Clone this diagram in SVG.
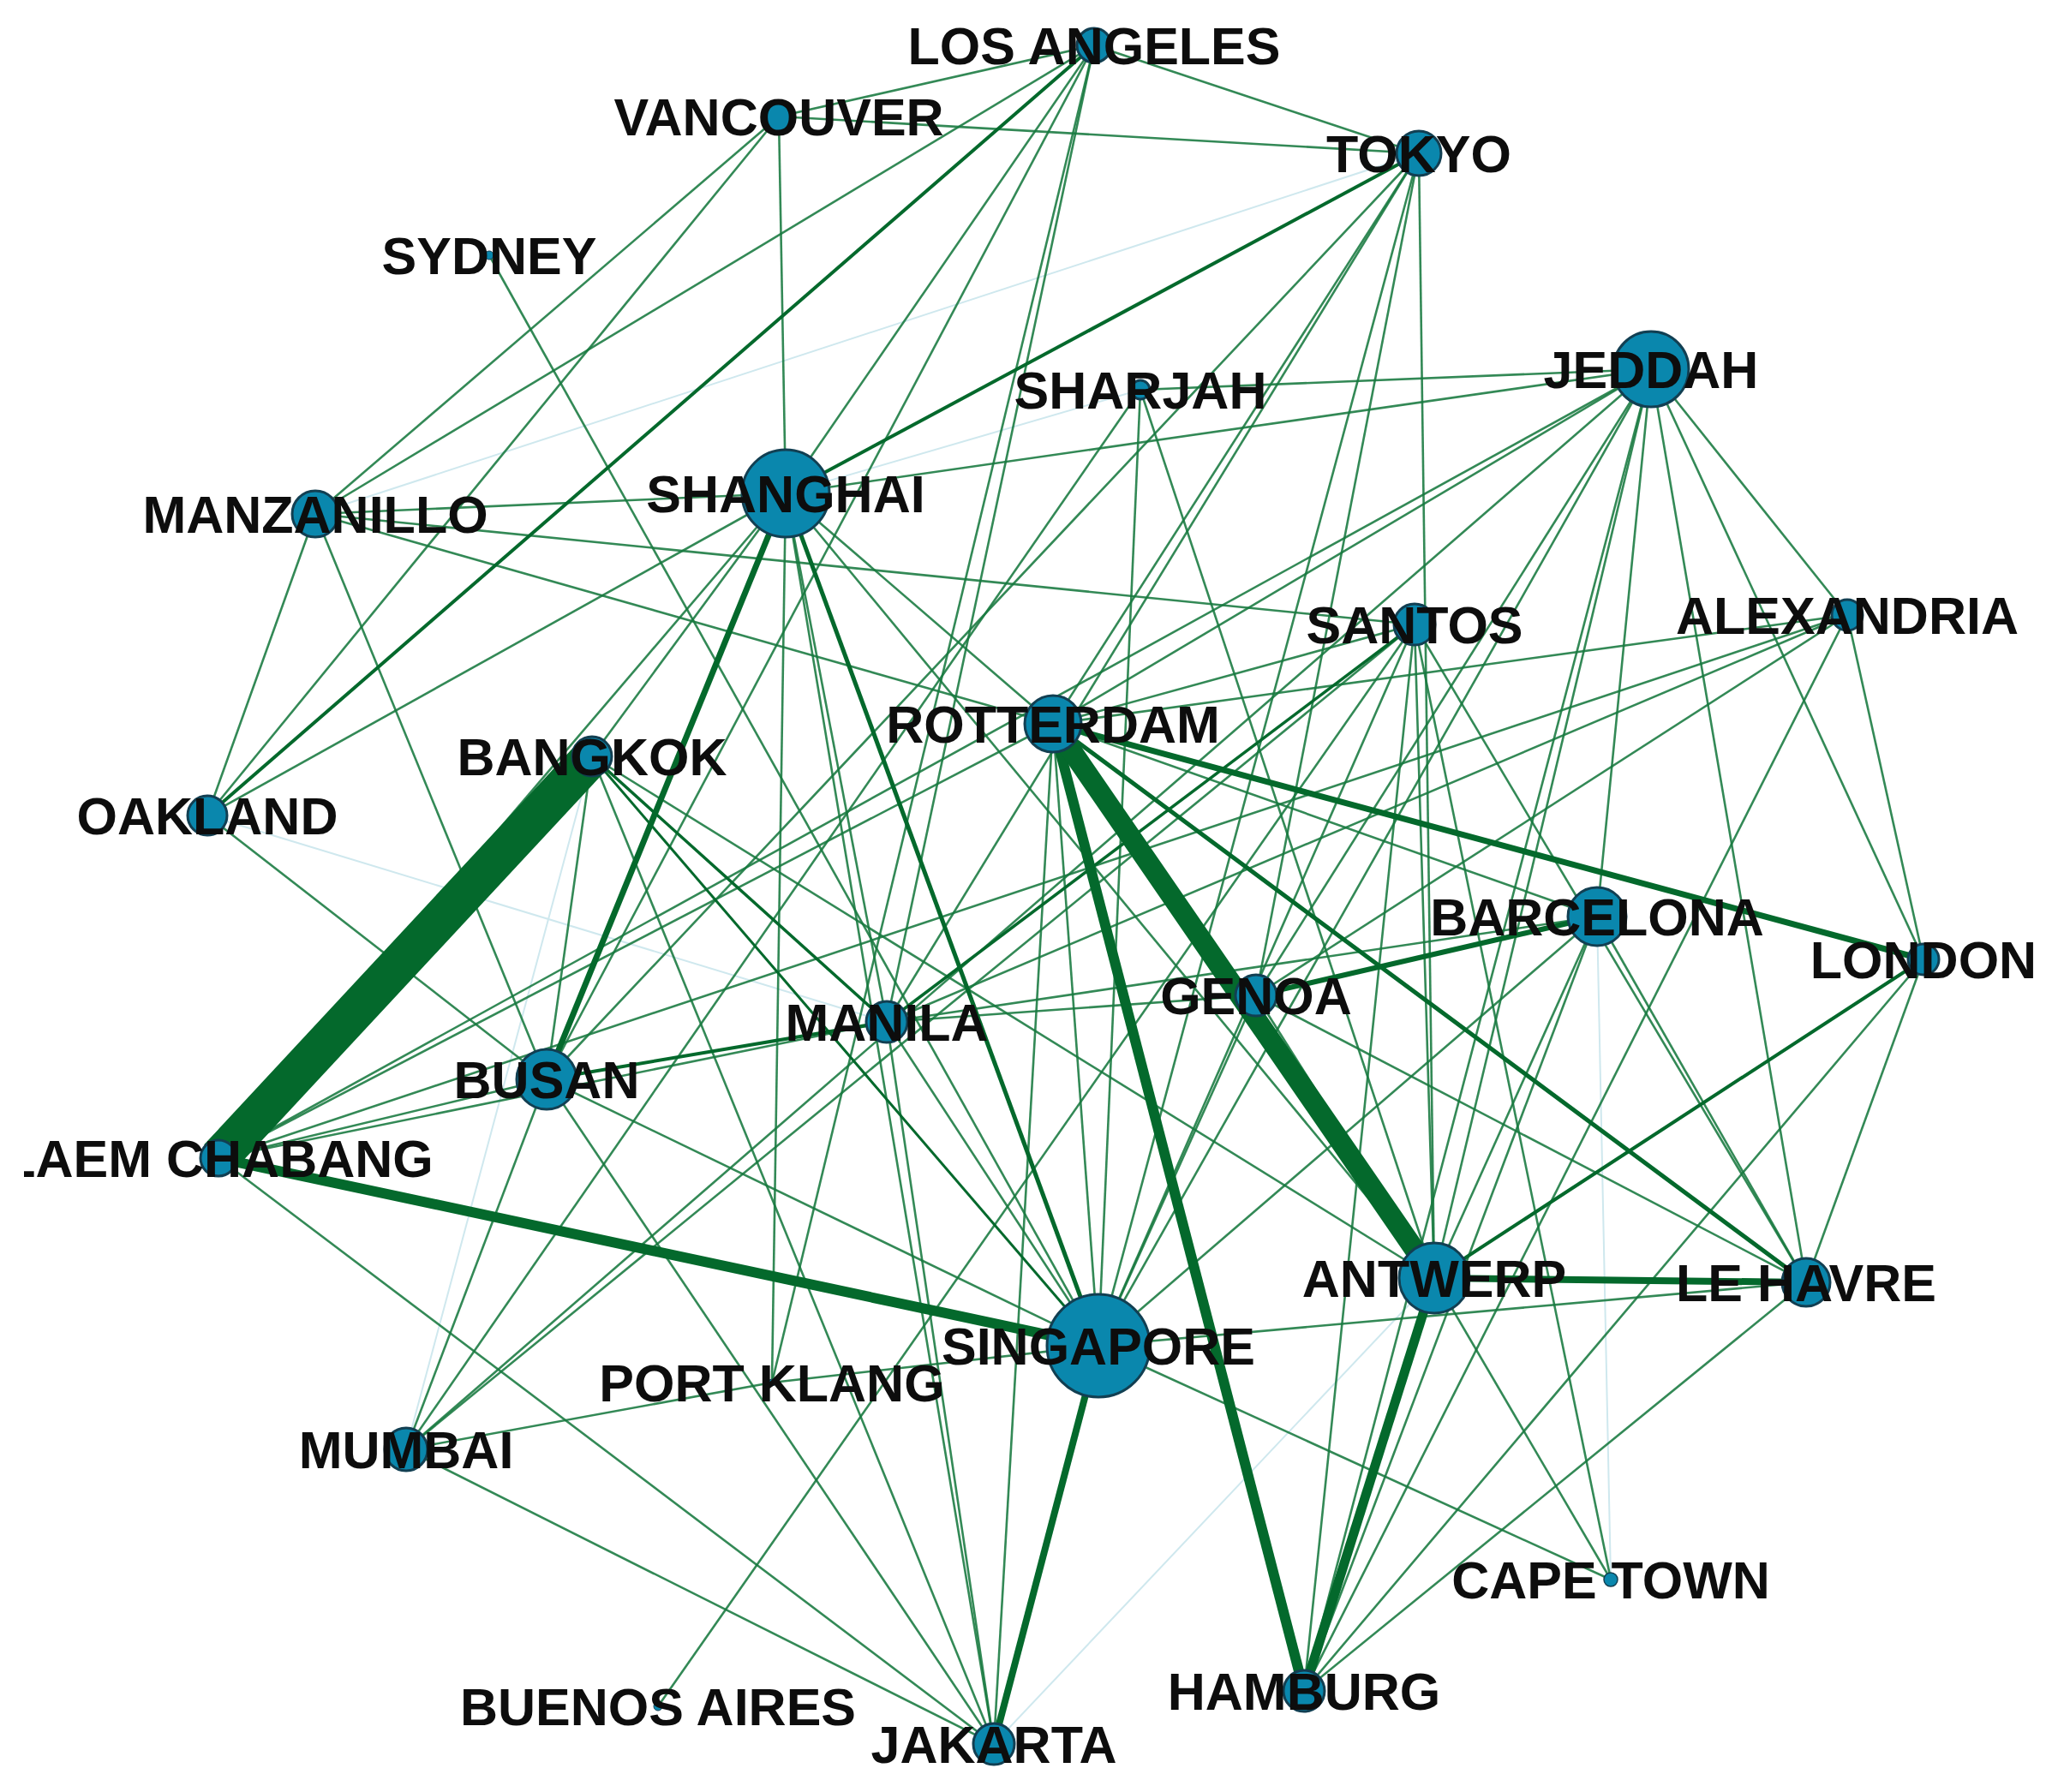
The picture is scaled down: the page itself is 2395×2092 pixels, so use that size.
<svg xmlns="http://www.w3.org/2000/svg" width="2395" height="2092" viewBox="0 0 2395 2092">
<defs>
<style>
.e{stroke:#17793f;stroke-width:2.6;stroke-opacity:0.88;fill:none}
.f{stroke:#cfe8ee;stroke-width:2;fill:none}
.t{stroke:#04692c;fill:none}
.n circle{fill:#0a87ad;stroke:#123f52;stroke-width:3}
.n text{font-family:"Liberation Sans",Arial,sans-serif;font-weight:bold;font-size:61px;fill:#0d0d0d;text-anchor:middle}
</style>
<clipPath id="cut"><rect x="28" y="0" width="2367" height="2092"/></clipPath>
</defs>
<rect width="2395" height="2092" fill="#fff"/>
<g id="edges">
<line class="f" x1="368" y1="600" x2="1656" y2="179"/>
<line class="f" x1="242" y1="952" x2="1035" y2="1193"/>
<line class="f" x1="691" y1="883" x2="474" y2="1692"/>
<line class="f" x1="917" y1="576" x2="1331" y2="455"/>
<line class="f" x1="1674" y1="1492" x2="1160" y2="2036"/>
<line class="f" x1="1864" y1="1070" x2="1880" y2="1844"/>
<line class="e" x1="1277" y1="53" x2="909" y2="136"/>
<line class="e" x1="1277" y1="53" x2="1656" y2="179"/>
<line class="e" x1="1277" y1="53" x2="368" y2="600"/>
<line class="e" x1="1277" y1="53" x2="917" y2="576"/>
<line class="e" x1="1277" y1="53" x2="638" y2="1260"/>
<line class="e" x1="1277" y1="53" x2="1035" y2="1193"/>
<line class="e" x1="1277" y1="53" x2="901" y2="1614"/>
<line class="e" x1="909" y1="136" x2="1656" y2="179"/>
<line class="e" x1="909" y1="136" x2="917" y2="576"/>
<line class="e" x1="909" y1="136" x2="368" y2="600"/>
<line class="e" x1="909" y1="136" x2="242" y2="952"/>
<line class="e" x1="571" y1="298" x2="1282" y2="1571"/>
<line class="e" x1="368" y1="600" x2="917" y2="576"/>
<line class="e" x1="368" y1="600" x2="242" y2="952"/>
<line class="e" x1="368" y1="600" x2="638" y2="1260"/>
<line class="e" x1="368" y1="600" x2="1229" y2="845"/>
<line class="e" x1="368" y1="600" x2="1651" y2="729"/>
<line class="e" x1="242" y1="952" x2="917" y2="576"/>
<line class="e" x1="242" y1="952" x2="638" y2="1260"/>
<line class="e" x1="917" y1="576" x2="1927" y2="431"/>
<line class="e" x1="917" y1="576" x2="255" y2="1352"/>
<line class="e" x1="917" y1="576" x2="691" y2="883"/>
<line class="e" x1="917" y1="576" x2="901" y2="1614"/>
<line class="e" x1="917" y1="576" x2="1160" y2="2036"/>
<line class="e" x1="917" y1="576" x2="1035" y2="1193"/>
<line class="e" x1="917" y1="576" x2="1674" y2="1492"/>
<line class="e" x1="917" y1="576" x2="1229" y2="845"/>
<line class="e" x1="1331" y1="455" x2="1927" y2="431"/>
<line class="e" x1="1331" y1="455" x2="1282" y2="1571"/>
<line class="e" x1="1331" y1="455" x2="474" y2="1692"/>
<line class="e" x1="1331" y1="455" x2="1674" y2="1492"/>
<line class="e" x1="1927" y1="431" x2="2156" y2="718"/>
<line class="e" x1="1927" y1="431" x2="2245" y2="1120"/>
<line class="e" x1="1927" y1="431" x2="2108" y2="1497"/>
<line class="e" x1="1927" y1="431" x2="1674" y2="1492"/>
<line class="e" x1="1927" y1="431" x2="1466" y2="1162"/>
<line class="e" x1="1927" y1="431" x2="1282" y2="1571"/>
<line class="e" x1="1927" y1="431" x2="474" y2="1692"/>
<line class="e" x1="1927" y1="431" x2="1229" y2="845"/>
<line class="e" x1="1927" y1="431" x2="255" y2="1352"/>
<line class="e" x1="1927" y1="431" x2="1522" y2="1974"/>
<line class="e" x1="1927" y1="431" x2="1864" y2="1070"/>
<line class="e" x1="1656" y1="179" x2="1229" y2="845"/>
<line class="e" x1="1656" y1="179" x2="1035" y2="1193"/>
<line class="e" x1="1656" y1="179" x2="1282" y2="1571"/>
<line class="e" x1="1656" y1="179" x2="1466" y2="1162"/>
<line class="e" x1="1656" y1="179" x2="638" y2="1260"/>
<line class="e" x1="1656" y1="179" x2="1674" y2="1492"/>
<line class="e" x1="2156" y1="718" x2="2245" y2="1120"/>
<line class="e" x1="2156" y1="718" x2="1466" y2="1162"/>
<line class="e" x1="2156" y1="718" x2="1229" y2="845"/>
<line class="e" x1="2156" y1="718" x2="1522" y2="1974"/>
<line class="e" x1="2156" y1="718" x2="1035" y2="1193"/>
<line class="e" x1="2156" y1="718" x2="255" y2="1352"/>
<line class="e" x1="1651" y1="729" x2="1880" y2="1844"/>
<line class="e" x1="1651" y1="729" x2="1674" y2="1492"/>
<line class="e" x1="1651" y1="729" x2="1229" y2="845"/>
<line class="e" x1="1651" y1="729" x2="768" y2="1992"/>
<line class="e" x1="1651" y1="729" x2="474" y2="1692"/>
<line class="e" x1="1651" y1="729" x2="1282" y2="1571"/>
<line class="e" x1="1651" y1="729" x2="2108" y2="1497"/>
<line class="e" x1="1651" y1="729" x2="1522" y2="1974"/>
<line class="e" x1="1229" y1="845" x2="255" y2="1352"/>
<line class="e" x1="1229" y1="845" x2="1864" y2="1070"/>
<line class="e" x1="1229" y1="845" x2="1160" y2="2036"/>
<line class="e" x1="1229" y1="845" x2="1282" y2="1571"/>
<line class="e" x1="1864" y1="1070" x2="2108" y2="1497"/>
<line class="e" x1="1864" y1="1070" x2="1282" y2="1571"/>
<line class="e" x1="1864" y1="1070" x2="1674" y2="1492"/>
<line class="e" x1="1864" y1="1070" x2="1522" y2="1974"/>
<line class="e" x1="1864" y1="1070" x2="1035" y2="1193"/>
<line class="e" x1="2245" y1="1120" x2="2108" y2="1497"/>
<line class="e" x1="2245" y1="1120" x2="1522" y2="1974"/>
<line class="e" x1="1466" y1="1162" x2="1282" y2="1571"/>
<line class="e" x1="1466" y1="1162" x2="2108" y2="1497"/>
<line class="e" x1="1466" y1="1162" x2="1674" y2="1492"/>
<line class="e" x1="1466" y1="1162" x2="1035" y2="1193"/>
<line class="e" x1="1035" y1="1193" x2="255" y2="1352"/>
<line class="e" x1="1035" y1="1193" x2="1160" y2="2036"/>
<line class="e" x1="1035" y1="1193" x2="1282" y2="1571"/>
<line class="e" x1="638" y1="1260" x2="255" y2="1352"/>
<line class="e" x1="638" y1="1260" x2="474" y2="1692"/>
<line class="e" x1="638" y1="1260" x2="1282" y2="1571"/>
<line class="e" x1="638" y1="1260" x2="1160" y2="2036"/>
<line class="e" x1="691" y1="883" x2="638" y2="1260"/>
<line class="e" x1="691" y1="883" x2="1160" y2="2036"/>
<line class="e" x1="691" y1="883" x2="1674" y2="1492"/>
<line class="e" x1="255" y1="1352" x2="1160" y2="2036"/>
<line class="e" x1="474" y1="1692" x2="901" y2="1614"/>
<line class="e" x1="474" y1="1692" x2="1160" y2="2036"/>
<line class="e" x1="901" y1="1614" x2="1282" y2="1571"/>
<line class="e" x1="1282" y1="1571" x2="2108" y2="1497"/>
<line class="e" x1="1282" y1="1571" x2="1880" y2="1844"/>
<line class="e" x1="1674" y1="1492" x2="1880" y2="1844"/>
<line class="e" x1="2108" y1="1497" x2="1522" y2="1974"/>
<line class="t" x1="691" y1="883" x2="1282" y2="1571" stroke-width="3"/>
<line class="t" x1="691" y1="883" x2="1035" y2="1193" stroke-width="3.5"/>
<line class="t" x1="1035" y1="1193" x2="1651" y2="729" stroke-width="3.5"/>
<line class="t" x1="1674" y1="1492" x2="2245" y2="1120" stroke-width="4"/>
<line class="t" x1="1035" y1="1193" x2="638" y2="1260" stroke-width="4"/>
<line class="t" x1="1656" y1="179" x2="917" y2="576" stroke-width="4"/>
<line class="t" x1="1277" y1="53" x2="242" y2="952" stroke-width="4"/>
<line class="t" x1="917" y1="576" x2="1282" y2="1571" stroke-width="5"/>
<line class="t" x1="1466" y1="1162" x2="1864" y2="1070" stroke-width="6"/>
<line class="t" x1="1229" y1="845" x2="2108" y2="1497" stroke-width="5"/>
<line class="t" x1="1229" y1="845" x2="2245" y2="1120" stroke-width="7"/>
<line class="t" x1="917" y1="576" x2="638" y2="1260" stroke-width="7"/>
<line class="t" x1="1282" y1="1571" x2="1160" y2="2036" stroke-width="8"/>
<line class="t" x1="1674" y1="1492" x2="2108" y2="1497" stroke-width="8"/>
<line class="t" x1="1674" y1="1492" x2="1522" y2="1974" stroke-width="11"/>
<line class="t" x1="255" y1="1352" x2="1282" y2="1571" stroke-width="12"/>
<line class="t" x1="1229" y1="845" x2="1522" y2="1974" stroke-width="12"/>
<line class="t" x1="1229" y1="845" x2="1674" y2="1492" stroke-width="24"/>
<line class="t" x1="691" y1="883" x2="255" y2="1352" stroke-width="46"/>
</g>
<g id="n-losangeles" class="n"><circle cx="1277" cy="53" r="20"/><text x="1277" y="75">LOS ANGELES</text></g>
<g id="n-vancouver" class="n"><circle cx="909" cy="136" r="18"/><text x="909" y="158">VANCOUVER</text></g>
<g id="n-tokyo" class="n"><circle cx="1656" cy="179" r="26"/><text x="1656" y="201">TOKYO</text></g>
<g id="n-sydney" class="n"><circle cx="571" cy="298" r="5" style="stroke-width:1"/><text x="571" y="320">SYDNEY</text></g>
<g id="n-sharjah" class="n"><circle cx="1331" cy="455" r="11"/><text x="1331" y="477">SHARJAH</text></g>
<g id="n-jeddah" class="n"><circle cx="1927" cy="431" r="44"/><text x="1927" y="453">JEDDAH</text></g>
<g id="n-shanghai" class="n"><circle cx="917" cy="576" r="51"/><text x="917" y="598">SHANGHAI</text></g>
<g id="n-manzanillo" class="n"><circle cx="368" cy="600" r="27"/><text x="368" y="622">MANZANILLO</text></g>
<g id="n-santos" class="n"><circle cx="1651" cy="729" r="24"/><text x="1651" y="751">SANTOS</text></g>
<g id="n-alexandria" class="n"><circle cx="2156" cy="718" r="18"/><text x="2156" y="740">ALEXANDRIA</text></g>
<g id="n-rotterdam" class="n"><circle cx="1229" cy="845" r="33"/><text x="1229" y="867">ROTTERDAM</text></g>
<g id="n-bangkok" class="n"><circle cx="691" cy="883" r="23"/><text x="691" y="905">BANGKOK</text></g>
<g id="n-oakland" class="n"><circle cx="242" cy="952" r="23"/><text x="242" y="974">OAKLAND</text></g>
<g id="n-barcelona" class="n"><circle cx="1864" cy="1070" r="34"/><text x="1864" y="1092">BARCELONA</text></g>
<g id="n-london" class="n"><circle cx="2245" cy="1120" r="18"/><text x="2245" y="1142">LONDON</text></g>
<g id="n-genoa" class="n"><circle cx="1466" cy="1162" r="24"/><text x="1466" y="1184">GENOA</text></g>
<g id="n-manila" class="n"><circle cx="1035" cy="1193" r="24"/><text x="1035" y="1215">MANILA</text></g>
<g id="n-busan" class="n"><circle cx="638" cy="1260" r="35"/><text x="638" y="1282">BUSAN</text></g>
<g id="n-laemchabang" class="n"><circle cx="255" cy="1352" r="21"/><text x="255" y="1374" clip-path="url(#cut)">LAEM CHABANG</text></g>
<g id="n-antwerp" class="n"><circle cx="1674" cy="1492" r="41"/><text x="1674" y="1514">ANTWERP</text></g>
<g id="n-lehavre" class="n"><circle cx="2108" cy="1497" r="28"/><text x="2108" y="1519">LE HAVRE</text></g>
<g id="n-singapore" class="n"><circle cx="1282" cy="1571" r="60"/><text x="1282" y="1593">SINGAPORE</text></g>
<g id="n-portklang" class="n"><circle cx="901" cy="1614" r="4" style="stroke-width:1"/><text x="901" y="1636">PORT KLANG</text></g>
<g id="n-mumbai" class="n"><circle cx="474" cy="1692" r="25"/><text x="474" y="1714">MUMBAI</text></g>
<g id="n-capetown" class="n"><circle cx="1880" cy="1844" r="8" style="stroke-width:1.5"/><text x="1880" y="1866">CAPE TOWN</text></g>
<g id="n-hamburg" class="n"><circle cx="1522" cy="1974" r="24"/><text x="1522" y="1996">HAMBURG</text></g>
<g id="n-buenosaires" class="n"><circle cx="768" cy="1992" r="5" style="stroke-width:1"/><text x="768" y="2014">BUENOS AIRES</text></g>
<g id="n-jakarta" class="n"><circle cx="1160" cy="2036" r="24"/><text x="1160" y="2058">JAKARTA</text></g>
</svg>
